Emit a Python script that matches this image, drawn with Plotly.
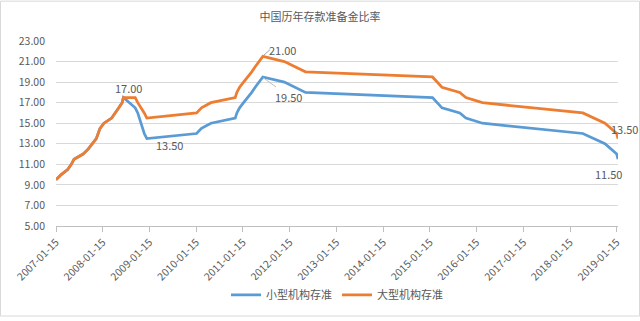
import plotly.graph_objects as go

title = "中国历年存款准备金比率"
dates = ["2007-01-15", "2007-02-25", "2007-04-16", "2007-05-15", "2007-06-05", "2007-08-15",
         "2007-09-25", "2007-10-25", "2007-11-26", "2007-12-25", "2008-01-25", "2008-03-25",
         "2008-04-25", "2008-05-20", "2008-06-15", "2008-06-25", "2008-09-25", "2008-10-15",
         "2008-12-05", "2008-12-25", "2010-01-18", "2010-02-25", "2010-05-10", "2010-11-16",
         "2010-11-29", "2010-12-20", "2011-01-20", "2011-02-24", "2011-03-25", "2011-04-21",
         "2011-05-18", "2011-06-20", "2011-12-05", "2012-02-24", "2012-05-18", "2015-02-05",
         "2015-04-20", "2015-09-06", "2015-10-24", "2016-03-01", "2018-04-25", "2018-10-15",
         "2019-01-15", "2019-01-25"]
small = [9.5, 10.0, 10.5, 11.0, 11.5, 12.0, 12.5, 13.0, 13.5, 14.5, 15.0, 15.5,
         16.0, 16.5, 17.0, 17.5, 16.5, 16.0, 14.0, 13.5, 14.0, 14.5, 15.0, 15.5,
         16.0, 16.5, 17.0, 17.5, 18.0, 18.5, 19.0, 19.5, 19.0, 18.5, 18.0, 17.5,
         16.5, 16.0, 15.5, 15.0, 14.0, 13.0, 12.0, 11.5]
large = [9.5, 10.0, 10.5, 11.0, 11.5, 12.0, 12.5, 13.0, 13.5, 14.5, 15.0, 15.5,
         16.0, 16.5, 17.0, 17.5, 17.5, 17.0, 16.0, 15.5, 16.0, 16.5, 17.0, 17.5,
         18.0, 18.5, 19.0, 19.5, 20.0, 20.5, 21.0, 21.5, 21.0, 20.5, 20.0, 19.5,
         18.5, 18.0, 17.5, 17.0, 16.0, 15.0, 14.0, 13.5]
series_names = ["小型机构存准", "大型机构存准"]
tick_dates = [f"{y}-01-15" for y in range(2007, 2020)]
y_ticks = [5, 7, 9, 11, 13, 15, 17, 19, 21, 23]

# data labels: (text, x, y)
labels = [
    ("17.00", "2008-08-05", 18.45),
    ("13.50", "2009-06-20", 12.85),
    ("21.00", "2011-11-20", 22.15),
    ("19.50", "2012-01-05", 17.55),
    ("11.50", "2018-11-08", 10.1),
]
end_label = ("13.50", 14.45)

FONT = "Noto Sans CJK SC, Noto Sans, sans-serif"
GREY = "#595959"
L, R, T, B = 56, 22, 41, 92
W, H = 640, 321
pw, ph = W - L - R, H - T - B

fig = go.Figure()
fig.add_trace(go.Scatter(x=dates, y=small, mode="lines", name=series_names[0],
                         line=dict(color="#5B9BD5", width=2.75)))
fig.add_trace(go.Scatter(x=dates, y=large, mode="lines", name=series_names[1],
                         line=dict(color="#ED7D31", width=2.75)))

for text, x, y in labels:
    fig.add_annotation(x=x, y=y, xref="x", yref="y", text=text, showarrow=False,
                       font=dict(size=11, color=GREY, family=FONT))
fig.add_annotation(x=(609 - L) / pw, y=end_label[1], xref="paper", yref="y",
                   xanchor="left", text=end_label[0], showarrow=False,
                   font=dict(size=11, color=GREY, family=FONT))

# leader lines
fig.add_annotation(x="2011-06-25", y=21.6, xref="x", yref="y", ax=8, ay=-7,
                   text="", showarrow=True, arrowhead=0, arrowwidth=1, arrowcolor="#A5A5A5")
fig.add_annotation(x="2011-06-25", y=19.4, xref="x", yref="y", ax=14, ay=10,
                   text="", showarrow=True, arrowhead=0, arrowwidth=1, arrowcolor="#BFBFBF")

fig.add_shape(type="rect", xref="paper", yref="paper",
              x0=(0.5 - L) / pw, x1=(W - 0.5 - L) / pw,
              y0=-(H - 0.5 - T - ph) / ph, y1=(ph + T - 0.5) / ph,
              line=dict(color="#D9D9D9", width=1), layer="below")

fig.update_layout(
    width=W, height=H,
    margin=dict(l=L, r=R, t=T, b=B),
    paper_bgcolor="white", plot_bgcolor="white",
    title=dict(text=title, x=0.5, xanchor="center", y=1 - 17 / H, yanchor="middle",
               font=dict(size=11, color=GREY, family=FONT)),
    font=dict(family=FONT, color=GREY),
    legend=dict(orientation="h", x=0.5, xanchor="center", y=-70 / ph, yanchor="middle",
                font=dict(size=11, color=GREY, family=FONT), itemwidth=30),
    showlegend=True,
)
fig.update_xaxes(type="date", range=["2007-01-15", "2019-01-25"],
                 tickvals=tick_dates, ticktext=tick_dates, tickangle=-45,
                 showgrid=False, showline=True, linecolor="#BFBFBF", linewidth=1,
                 ticks="outside", ticklen=5, tickcolor="#BFBFBF",
                 tickfont=dict(size=10.5, color=GREY, family=FONT), zeroline=False)
fig.update_yaxes(range=[5, 23], tickvals=y_ticks, ticktext=[f"{v:.2f}" for v in y_ticks],
                 showgrid=True, gridcolor="#D9D9D9", gridwidth=1, zeroline=False,
                 showline=False, ticks="", ticklabelstandoff=10,
                 tickfont=dict(size=10.5, color=GREY, family=FONT))

fig.write_html("out.html")
